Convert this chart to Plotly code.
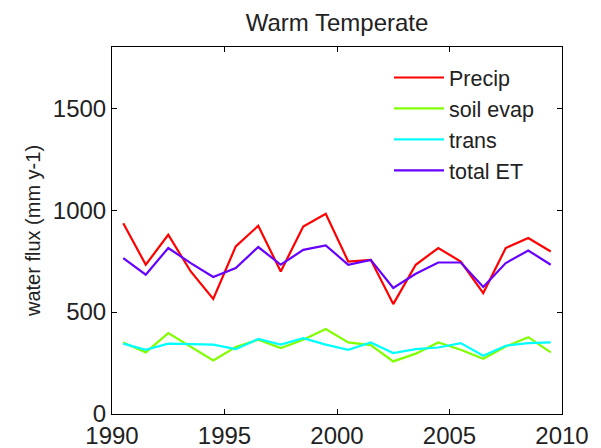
import plotly.graph_objects as go

years = [1990.5, 1991.5, 1992.5, 1993.5, 1994.5, 1995.5, 1996.5, 1997.5, 1998.5, 1999.5,
         2000.5, 2001.5, 2002.5, 2003.5, 2004.5, 2005.5, 2006.5, 2007.5, 2008.5, 2009.5]
precip = [936, 732, 879, 699, 564, 822, 923, 699, 920, 982,
          748, 756, 539, 732, 814, 748, 593, 814, 863, 797]
soil_evap = [351, 302, 397, 331, 263, 328, 364, 323, 364, 417,
             351, 338, 258, 296, 351, 315, 271, 331, 377, 302]
trans = [345, 315, 345, 342, 340, 318, 368, 340, 372, 340,
         315, 351, 299, 318, 326, 348, 286, 335, 348, 351]
total_et = [765, 683, 814, 740, 672, 716, 819, 732, 805, 827,
            732, 756, 618, 688, 743, 743, 623, 740, 802, 732]

series = [
    ("Precip", precip, "#ff0000"),
    ("soil evap", soil_evap, "#80ff00"),
    ("trans", trans, "#00ffff"),
    ("total ET", total_et, "#6600ff"),
]

FONT = "Liberation Sans, Arial, Helvetica, sans-serif"

fig = go.Figure()
for name, vals, col in series:
    fig.add_trace(go.Scatter(x=years, y=vals, mode="lines", name=name,
                             line=dict(color=col, width=2.2)))

fig.update_layout(
    template="none",
    width=601, height=448,
    margin=dict(l=112, r=39, t=47, b=34),
    paper_bgcolor="white", plot_bgcolor="white",
    title=dict(text="Warm Temperate", x=337/601, xanchor="center",
               y=1 - 23/448, yanchor="middle",
               font=dict(family=FONT, size=24, color="#222")),
    legend=dict(x=(389 - 112) / 450, xanchor="left", y=1 - (57 - 47) / 367, yanchor="top",
                bgcolor="rgba(0,0,0,0)", borderwidth=0, itemwidth=50,
                font=dict(family=FONT, size=21.5, color="#222"), tracegroupgap=0),
    showlegend=True,
)
for upd in (fig.update_xaxes, fig.update_yaxes):
    upd(showline=True, linecolor="black", linewidth=1, mirror="allticks",
        ticks="inside", ticklen=5, tickwidth=1, tickcolor="black", showgrid=False,
        zeroline=False, tickfont=dict(family=FONT, size=24, color="#222"))

fig.update_xaxes(range=[1990, 2010], tickvals=[1990, 1995, 2000, 2005, 2010],
                 ticktext=["1990", "1995", "2000", "2005", "2010"])
fig.update_yaxes(range=[0, 1800], tickvals=[0, 500, 1000, 1500],
                 ticktext=["0", "500", "1000", "1500"],
                 title=dict(text="water flux (mm y-1)", standoff=6,
                            font=dict(family=FONT, size=20, color="#222")))

fig.write_html("out.html")
